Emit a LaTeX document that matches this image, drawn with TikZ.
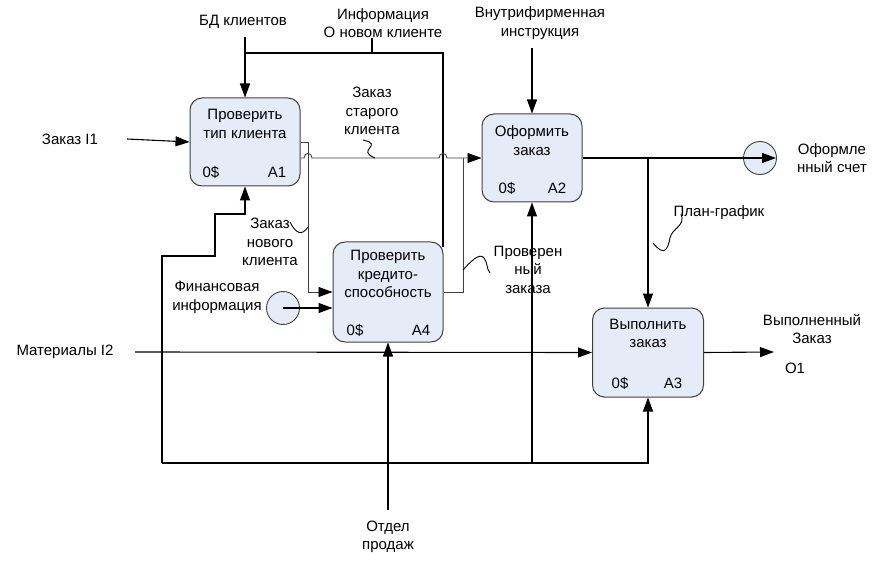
\documentclass[tikz,border=0pt]{standalone}
\usepackage{fontspec}
\setmainfont{Liberation Sans}
\usetikzlibrary{arrows.meta,calc}
\definecolor{boxfill}{HTML}{E6ECF7}
\definecolor{boxline}{HTML}{404040}
\definecolor{thinline}{HTML}{404040}
\tikzset{
  proc/.style={draw=boxline, fill=boxfill, rounded corners=12pt, line width=1pt, inner sep=0pt},
  ttl/.style={align=center, inner sep=0pt, font=\fontsize{15}{18.5}\selectfont},
  lbl/.style={align=center, inner sep=0pt, font=\fontsize{15}{18.5}\selectfont},
  conn/.style={line width=1.1pt, draw=black},
  arr/.style={conn, -{Triangle[length=14pt,width=10pt,color=black]}},
  tconn/.style={line width=0.9pt, draw=thinline},
  tarr/.style={tconn, -{Triangle[length=14pt,width=10pt,color=black]}},
  squig/.style={line width=0.9pt, draw=black},
  tun/.style={draw=boxline, fill=boxfill, circle, line width=0.9pt, minimum size=33pt, inner sep=0pt}
}
\begin{document}
\begin{tikzpicture}[x=1pt,y=-1pt]
\useasboundingbox (0,0) rectangle (873,564);
% boxes
\node[proc, minimum width=110pt, minimum height=88pt] (A1) at (245,142) {};
\node[proc, minimum width=100pt, minimum height=88pt] (A2) at (532,158) {};
\node[proc, minimum width=110pt, minimum height=100pt] (A4) at (388,292) {};
\node[proc, minimum width=111pt, minimum height=89pt] (A3) at (648,352.5) {};
% box texts
\node[ttl] (A1t) at (245,124) {Проверить\\тип клиента};
\node[ttl] (A1c) at (211,172) {0\$};
\node[ttl] (A1n) at (277,172) {A1};
\node[ttl] (A2t) at (532,140.5) {Оформить\\заказ};
\node[ttl] (A2c) at (507,188) {0\$};
\node[ttl] (A2n) at (557,188) {A2};
\node[ttl] (A4t) at (388,274) {Проверить\\кредито-\\способность};
\node[ttl] (A4c) at (355,330) {0\$};
\node[ttl] (A4n) at (421,330) {A4};
\node[ttl] (A3t) at (648,333.5) {Выполнить\\заказ};
\node[ttl] (A3c) at (620,383) {0\$};
\node[ttl] (A3n) at (673,383) {A3};
% tunnels
\node[tun] (fin) at (283,308) {};
\node[tun] (oc) at (760,158) {};
% free ends
\coordinate (bdTop) at (245,37);
\coordinate (infTop) at (372,38);
\coordinate (infJ) at (372,53);
\coordinate (vnTop) at (532,48);
\coordinate (zI1) at (127,139);
\coordinate (matL) at (135,352);
\coordinate (o1E) at (774,352);
\coordinate (otdB) at (388,510);
\coordinate (ocE) at (776,158);
% labels
\node[lbl] (Lbd) at (243,22) {БД клиентов};
\node[lbl] (Linf) at (383,23) {Информация\\О новом клиенте};
\node[lbl] (Lvn) at (540,23) {Внутрифирменная\\инструкция};
\node[lbl] (Lz1) at (70,139) {Заказ I1};
\node[lbl] (Lzs) at (372,111) {Заказ\\старого\\клиента};
\node[lbl] (Lzn) at (270,242) {Заказ\\нового\\клиента};
\node[lbl] (Lfin) at (217,297.5) {Финансовая\\информация};
\node[lbl] (Lpr) at (528,269.5) {Проверен\\ный\\заказа};
\node[lbl] (Lpg) at (719,213) {План-график};
\node[lbl] (Loc) at (832,158) {Оформле\\нный счет};
\node[lbl] (Lmat) at (65,352) {Материалы I2};
\node[lbl] (Lvz) at (812,329) {Выполненный\\Заказ};
\node[lbl] (Lo1) at (795,368) {O1};
\node[lbl] (Lotd) at (388,537) {Отдел\\продаж};
% connectors
\draw[arr] (bdTop) -- (A1.north);
\draw[conn] (245,53) -- (443,53) -- (443,247);
\draw[conn] (infTop) -- (infJ);
\draw[arr] (zI1) -- (A1.west);
% old client order with hops
\draw[tarr] ($(A1.east)+(0,16)$) -- (304,158) .. controls (304,152) and (312,152) .. (312,158)
   -- (439,158) .. controls (439,152) and (447,152) .. (447,158) -- (A2.west);
% new client order
\draw[tarr] (A1.east) -- (308,142) -- (308,292) -- (A4.west);
% financial info
\draw[arr] (fin.center) -- (A4.west |- fin.center);
% A4 output
\draw[tconn] (A4.east) -- (463,292) -- (463,158);
% internal instruction
\draw[arr] (vnTop) -- (A2.north);
% A2 output
\draw[arr] (A2.east) -- (ocE);
\draw[arr] (648,158) -- (A3.north);
% materials
\draw[arr] (matL) -- (A3.west);
\draw[arr] (A3.east) -- (o1E);
% sales dept
\draw[arr] (otdB) -- (A4.south);
% feedback loop
\draw[arr] (162,463) -- (648,463) -- (A3.south);
\draw[arr] (162,463) -- (162,256) -| (215,214) -| (A1.south);
\draw[arr] (532,463) -- (A2.south);
% squiggles
\draw[squig] (363,140) .. controls (385,145) and (355,150) .. (375,158);
\draw[squig] (290,222) .. controls (296,234) and (302,236) .. (308,227);
\draw[squig] (463,270) .. controls (470,262) and (480,252) .. (484,258) .. controls (488,263) and (486,268) .. (490,273);
\draw[squig] (653,243) .. controls (665,258) and (668,248) .. (670,238) .. controls (672,228) and (686,226) .. (681,214);
\end{tikzpicture}
\end{document}
